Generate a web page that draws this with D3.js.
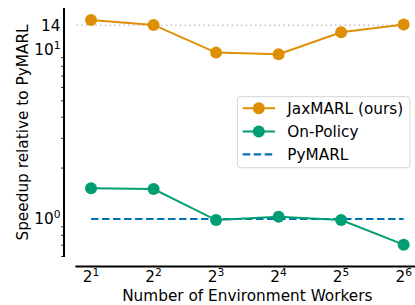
<!DOCTYPE html>
<html><head><meta charset="utf-8">
<script src="https://cdnjs.cloudflare.com/ajax/libs/d3/7.8.5/d3.min.js"></script>
<style>body{margin:0;background:#fff}svg{display:block;font-family:"DejaVu Sans",sans-serif}</style>
</head><body><svg id="c" width="415" height="305"></svg>
<script>
const workers = [2, 4, 8, 16, 32, 64];
const xExponents = [1, 2, 3, 4, 5, 6];
const jaxmarl = [15.05, 14.06, 9.64, 9.43, 12.73, 14.12];
const onPolicy = [1.52, 1.505, 0.986, 1.032, 0.986, 0.705];
const pymarl = [1, 1, 1, 1, 1, 1];
const refValue = 14;
const yMajorTicks = [1, 10];
const yMajorExp = [0, 1];
const yMinorTicks = [0.6, 0.7, 0.8, 0.9, 2, 3, 4, 5, 6, 7, 8, 9];
const seriesNames = ["JaxMARL (ours)", "On-Policy", "PyMARL"];
const colors = {jax: "#DE8F05", on: "#029E73", py: "#0173B2"};

const svg = d3.select("#c");
const FS = 15.3;
const x = d3.scaleLog().base(2).domain([Math.pow(2, 0.75), Math.pow(2, 6.25)]).range([75.4, 419.3]);
const y = d3.scaleLog().domain([0.596, 17.7]).range([257, 8]);

// spines
svg.append("line").attr("x1", 64).attr("x2", 64).attr("y1", y.range()[1]).attr("y2", y.range()[0])
  .attr("stroke", "#000").attr("stroke-width", 2);
svg.append("line").attr("x1", x.range()[0]).attr("x2", x.range()[1]).attr("y1", 266.5).attr("y2", 266.5)
  .attr("stroke", "#000").attr("stroke-width", 2);

// minor ticks
svg.selectAll(".mt").data(yMinorTicks).enter().append("line")
  .attr("x1", 61).attr("x2", 64).attr("y1", d => y(d)).attr("y2", d => y(d))
  .attr("stroke", "#000").attr("stroke-width", 0.8);

// y tick labels
yMajorTicks.forEach((v, i) => {
  const t = svg.append("text").attr("x", 60.5).attr("y", y(v) + 5.5).attr("text-anchor", "end")
    .attr("font-size", FS).attr("fill", "#000");
  t.append("tspan").text("10");
  t.append("tspan").attr("dy", -6).attr("font-size", FS * 0.7).text(yMajorExp[i]);
});
svg.append("text").attr("x", 60.5).attr("y", y(refValue) + 5.5).attr("text-anchor", "end")
  .attr("font-size", FS).text(String(refValue));

// x tick labels
workers.forEach((w, i) => {
  const t = svg.append("text").attr("x", x(w)).attr("y", 282).attr("text-anchor", "middle")
    .attr("font-size", FS).attr("fill", "#000");
  t.append("tspan").text("2");
  t.append("tspan").attr("dy", -6.5).attr("font-size", FS * 0.7).text(xExponents[i]);
});

// axis labels
svg.append("text").attr("x", x(Math.pow(2, 3.5))).attr("y", 300.5).attr("text-anchor", "middle")
  .attr("font-size", FS).text("Number of Environment Workers");
svg.append("text").attr("transform", "translate(27.5," + ((y.range()[0] + y.range()[1]) / 2) + ") rotate(-90)")
  .attr("text-anchor", "middle").attr("font-size", FS).text("Speedup relative to PyMARL");

// reference dotted line
svg.append("line").attr("x1", x(workers[0]) - 14.5).attr("x2", x(workers[5]))
  .attr("y1", y(refValue)).attr("y2", y(refValue))
  .attr("stroke", "#c4c4c4").attr("stroke-width", 1.5).attr("stroke-dasharray", "1.5,3.2");

const line = d3.line().x((d, i) => x(workers[i])).y(d => y(d));

// PyMARL dashed
svg.append("path").datum(pymarl).attr("d", line).attr("fill", "none")
  .attr("stroke", colors.py).attr("stroke-width", 2.2).attr("stroke-dasharray", "7.5,3.5");

function series(vals, col) {
  svg.append("path").datum(vals).attr("d", line).attr("fill", "none")
    .attr("stroke", col).attr("stroke-width", 2);
  svg.selectAll(null).data(vals).enter().append("circle")
    .attr("cx", (d, i) => x(workers[i])).attr("cy", d => y(d)).attr("r", 6).attr("fill", col);
}
series(onPolicy, colors.on);
series(jaxmarl, colors.jax);

// legend
const lg = svg.append("g");
lg.append("rect").attr("x", 237.5).attr("y", 96.7).attr("width", 172.5).attr("height", 71)
  .attr("rx", 3).attr("fill", "rgba(255,255,255,0.8)").attr("stroke", "#d6d6d6").attr("stroke-width", 1);
const rows = [108.3, 131.5, 154.3];
const cols = [colors.jax, colors.on, colors.py];
seriesNames.forEach((n, i) => {
  const ly = rows[i];
  const ln = lg.append("line").attr("x1", 242.7).attr("x2", 275).attr("y1", ly).attr("y2", ly)
    .attr("stroke", cols[i]).attr("stroke-width", 2);
  if (i === 2) ln.attr("stroke-dasharray", "7.5,3.5").attr("stroke-width", 2.2);
  else lg.append("circle").attr("cx", 258.8).attr("cy", ly).attr("r", 6).attr("fill", cols[i]);
  lg.append("text").attr("x", 287.3).attr("y", ly + 5.5).attr("font-size", FS).text(n);
});
</script></body></html>
